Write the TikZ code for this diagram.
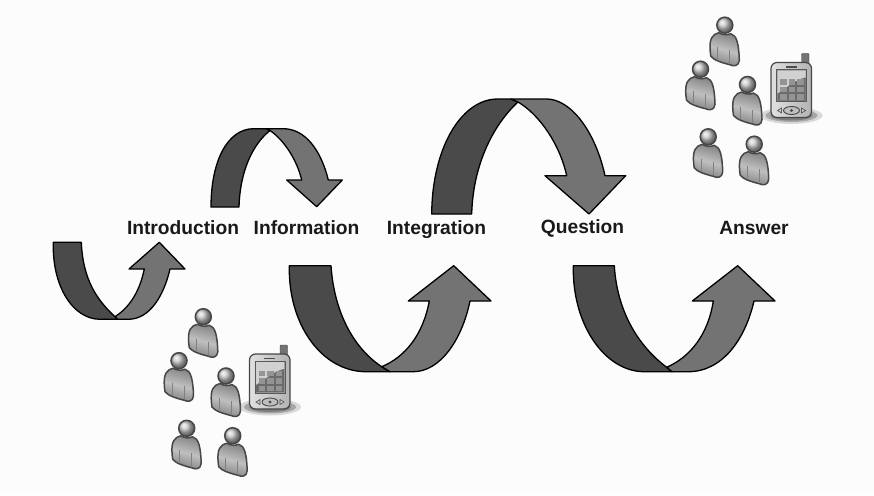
\documentclass[tikz,border=0pt]{standalone}
\usepackage{fontspec}
\setmainfont{Liberation Sans}
\tikzset{
  band/.style={draw=black,line width=1.3pt,line join=round,fill=#1},
  label/.style={font=\fontsize{19.2}{21}\selectfont\bfseries,text=black!90,inner sep=0pt,anchor=base},
  bodyshape/.style={draw=black!72,line width=1.5pt,left color=black!48,right color=black!50,middle color=black!25,shading angle=-15,line join=round},
  headshape/.style={draw=black!72,line width=1.5pt,ball color=black!22}
}
\colorlet{darkband}{black!71}
\colorlet{lightband}{black!55}
\newcommand{\person}[2]{%
 \begin{scope}[shift={(#1,#2)}]
  \path[bodyshape] (-14.5,27) .. controls (-16,13) and (-12,9) .. (-6,7.5)
     .. controls (-2,10) and (3,10) .. (6,8.5)
     .. controls (12,10) and (14,19) .. (14.5,35)
     .. controls (14,41) and (9,41.5) .. (5,39.5)
     .. controls (-3,37.5) and (-11,35) .. (-14,31) -- cycle;
  \draw[black!50,line width=1pt] (-7,22) -- (-7,34) (5,25) -- (5,38);
  \path[headshape] (0,0) circle (8);
 \end{scope}}
\newcommand{\phonegroup}{%
  \person{203.3}{316.7}\person{179}{360.7}\person{226}{376}\person{186.7}{428.3}\person{232.7}{435.7}
  \fill[black!55,opacity=0.25] (270,407) ellipse (31 and 8.5);
  \fill[black!70,opacity=0.35] (270,407) ellipse (26 and 6.5);
  \fill[black!75,opacity=0.4] (270,407) ellipse (21 and 5);
  \fill[black!55,rounded corners=1pt,draw=black!75] (280,345) rectangle (287.5,358);
  \path[draw=black!72,line width=1.2pt,left color=black!12,right color=black!30,rounded corners=6pt] (249.5,354) rectangle (290,409);
  \path[draw=black!65,line width=0.9pt,fill=black!40] (255,361) rectangle (285,393);
  \fill[black!18] (256,362) -- (284,362) -- (284,369) .. controls (272,372) and (265,380) .. (256,385) -- cycle;
  \fill[black!58] (284,369) -- (284,392) -- (256,392) -- (256,385) .. controls (265,380) and (272,372) .. cycle;
  \foreach \i in {0,1,2}\foreach \j in {0,1,2}{\fill[black!42] (258.5+8.5*\i,370.5+7.5*\j) rectangle +(6.5,5.5);}
  \draw[black!72,fill=black!25,line width=.9pt] (270,402) ellipse (8 and 4);
  \fill[black!70] (270,402) circle (1.6);
  \draw[black!65,fill=black!20,line width=.7pt] (256,402) -- (260,399.5) -- (260,404.5) -- cycle (284,402) -- (280,399.5) -- (280,404.5) -- cycle;
  \fill[black!70] (264,357.5) rectangle (275,359);
}
\begin{document}
\begin{tikzpicture}[x=1pt,y=-1pt]
\useasboundingbox (0,0) rectangle (874,495);
\fill[black!1] (0,0) rectangle (874,495);
% arrow 1
\path[band=darkband] (53.3,242.3) -- (81.3,242.3) .. controls (83,280) and (97,300) .. (115,316.7)
  -- (118,319.3) -- (100,319.3) .. controls (72,319) and (52,285) .. cycle;
\path[band=lightband] (115,316.7) .. controls (127,309) and (139,295) .. (144.3,269) -- (129,269) -- (159.3,242.3) -- (185,269) -- (170,269)
  .. controls (164,295) and (150,319.3) .. (128.3,319.3) -- (118,319.3) -- cycle;
% arrow 2
\path[band=darkband] (211,207) -- (239,207) .. controls (240,172) and (252,145) .. (270,130.5)
  -- (266,128.7) -- (253.3,128.7) .. controls (228,129) and (211,160) .. cycle;
\path[band=lightband] (270,130.5) .. controls (284,140) and (297,160) .. (301.7,180) -- (286.7,180) -- (316.7,206.7) -- (342.3,180) -- (328.3,180)
  .. controls (321,150) and (305,128.7) .. (283.3,128.7) -- (266,128.7) -- cycle;
% arrow 3
\path[band=darkband] (289.3,265.7) -- (331,265.7) .. controls (334,310) and (352,347) .. (381.7,366.7)
  -- (390,371.7) -- (365,371.7) .. controls (322,371) and (288,325) .. cycle;
\path[band=lightband] (381.7,366.7) .. controls (405,357) and (423,335) .. (429.3,301) -- (408.3,301) -- (453.7,265.7) -- (491,301) -- (470,301)
  .. controls (462,340) and (440,371.7) .. (413.3,371.7) -- (390,371.7) -- cycle;
% arrow 4
\path[band=darkband] (431.7,214) -- (471.7,214) .. controls (473,165) and (493,125) .. (518,102)
  -- (511,99) -- (496.7,99) .. controls (460,100) and (432,150) .. cycle;
\path[band=lightband] (518,102) .. controls (540,115) and (560,145) .. (566.7,175.7) -- (545,175.7) -- (589,214) -- (625.7,175.7) -- (605,175.7)
  .. controls (595,130) and (570,99) .. (546.7,99) -- (511,99) -- cycle;
% arrow 5
\path[band=darkband] (573.3,265.7) -- (614.3,265.7) .. controls (617,310) and (637,345) .. (666.7,367.3)
  -- (672,371.7) -- (643.3,371.7) .. controls (605,371) and (572,325) .. cycle;
\path[band=lightband] (666.7,367.3) .. controls (690,357) and (708,335) .. (713.3,301) -- (692.3,301) -- (737.7,265.7) -- (775,301) -- (754,301)
  .. controls (745,340) and (722,371.7) .. (688.3,371.7) -- (672,371.7) -- cycle;
% labels
\node[label] (intro) at (183,234) {Introduction};
\node[label] (info) at (306.5,234) {Information};
\node[label] (integ) at (436.5,234) {Integration};
\node[label] (quest) at (582.5,233) {Question};
\node[label] (ans) at (754,234) {Answer};
% groups
\phonegroup
\begin{scope}[shift={(521.5,-291.5)}]\phonegroup\end{scope}
\end{tikzpicture}
\end{document}
